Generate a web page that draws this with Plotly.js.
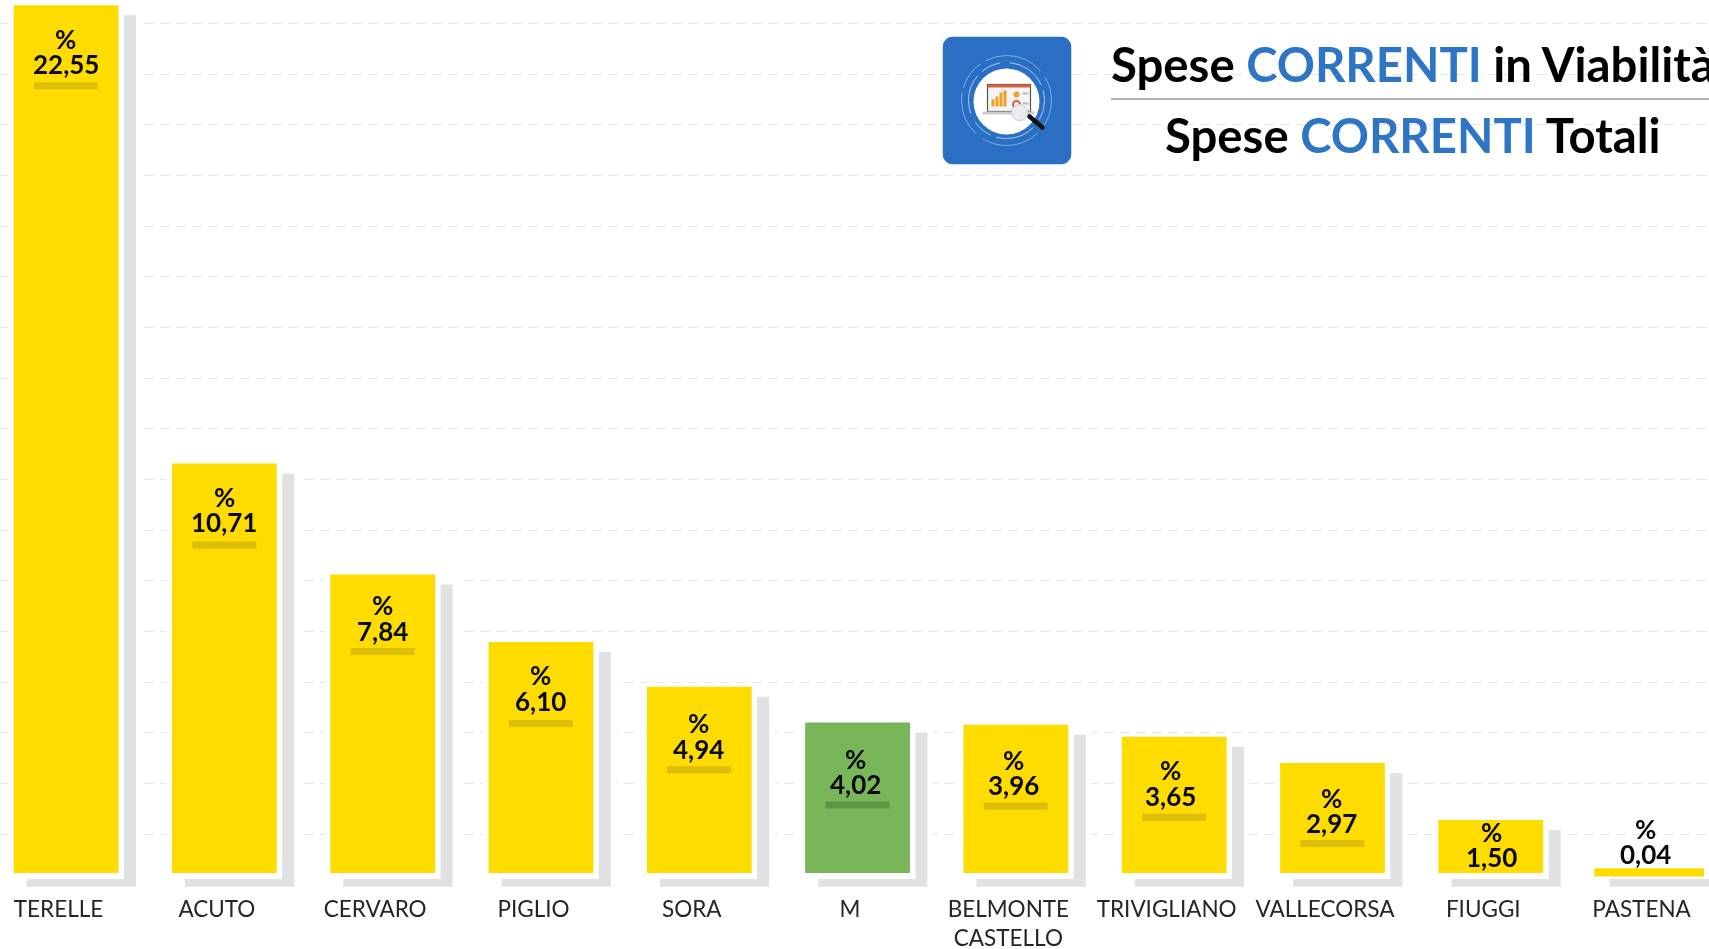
<!DOCTYPE html>
<html><head><meta charset="utf-8">
<script src="https://cdn.plot.ly/plotly-3.0.1.min.js"></script>
<style>html,body{margin:0;padding:0;background:#fff;overflow:hidden}#chart{width:1709px;height:949px;filter:blur(0.4px)}</style>
</head><body><div id="chart"></div>
<script>
const categories = ['TERELLE','ACUTO','CERVARO','PIGLIO','SORA','M','BELMONTE<br>CASTELLO','TRIVIGLIANO','VALLECORSA','FIUGGI','PASTENA'];
const values = [22.55,10.71,7.84,6.10,4.94,4.02,3.96,3.65,2.97,1.50,0.04];
const barColors = ['#FFDC00','#FFDC00','#FFDC00','#FFDC00','#FFDC00','#79B65A','#FFDC00','#FFDC00','#FFDC00','#FFDC00','#FFDC00'];
const stripColors = ['#DDBE08','#DDBE08','#DDBE08','#DDBE08','#DDBE08','#5B9643','#DDBE08','#DDBE08','#DDBE08',null,null];
const percentDrop = [34,33,30,33,36,37,35,33,35,12,-47];
const valueDrop = [59,58,56,59,62,62,60,59,60,37,-22];
const stripDrop = [77,78,73.5,78,79.5,79,78,77,77,0,0];
const labelShift = [7.4,7.6,7.4,7,7,5,4.8,4,7,8.4,4.4];
const gridValues = [1.137,2.446,3.755,5.064,6.373,7.682,8.991,10.3,11.609,12.918,14.227,15.536,16.845,18.154,19.463,20.772,22.081];
const blue = '#2E75C5';
const font = 'Lato, Carlito, sans-serif';

const W = 1709, PH = 893, PXV = 38.7;
const barBase = 0.129, whiteBase = -0.026, shadowBase = -0.225, shadowDrop = 0.258, floorV = (878-PH)/PXV;
const isLast = i => i === categories.length-1;

function bar(name, colors, tops, bases, offsets, widths){
  return {type:'bar', name, x:categories, y:tops.map((t,i)=>t===null?null:t-bases[i]), base:bases,
    offset:offsets, width:widths, marker:{color:colors,line:{width:0}}, hoverinfo:'skip', showlegend:false};
}
const rep = v => categories.map(()=>v);
const traces = [
  bar('gap', rep('#ffffff'), values, rep(floorV), rep(-0.32), rep(0.8437)),
  bar('shadow', rep('#E0E1E3'), values.map(v=>Math.max(v-shadowDrop, whiteBase)), rep(shadowBase), rep(-0.2015), rep(0.6905)),
  bar('inner', rep('#ffffff'), values, rep(whiteBase), rep(-0.2836), rep(0.6966)),
  {type:'bar', name:'values', x:categories,
   y:values.map((v,i)=>isLast(i)?0.215:v-barBase),
   base:values.map((v,i)=>isLast(i)?v:barBase),
   offset:categories.map((c,i)=>isLast(i)?-0.2988:-0.2836),
   width:categories.map((c,i)=>isLast(i)?0.693:0.662),
   marker:{color:barColors,line:{width:0}}, hoverinfo:'skip', showlegend:false},
  bar('strip', stripColors, values.map((v,i)=>stripColors[i]?v-stripDrop[i]/PXV:null), values.map((v,i)=>v-(stripDrop[i]+7)/PXV), rep(-0.155), rep(0.404))
];

const annotations = [];
values.forEach((v,i)=>{
  annotations.push({x:categories[i],y:v,xref:'x',yref:'y',text:'%',showarrow:false,xanchor:'center',yanchor:'middle',
    xshift:labelShift[i],yshift:-percentDrop[i],font:{family:font,size:26,color:'#0a0a0a',weight:700}});
  annotations.push({x:categories[i],y:v,xref:'x',yref:'y',text:v.toFixed(2).replace('.',','),showarrow:false,xanchor:'center',yanchor:'middle',
    xshift:labelShift[i],yshift:-valueDrop[i],font:{family:font,size:26,color:'#0a0a0a',weight:700}});
});
const px = x=>x/W, py = y=>1-y/PH;
annotations.push({xref:'paper',yref:'paper',x:px(1109),y:py(63),xanchor:'left',yanchor:'middle',showarrow:false,
  text:`<b>Spese <span style="color:${blue}">CORRENTI</span> in Viabilità</b>`,font:{family:font,size:47.3,color:'#000'}});
annotations.push({xref:'paper',yref:'paper',x:px(1413),y:py(134),xanchor:'center',yanchor:'middle',showarrow:false,
  text:`<b>Spese <span style="color:${blue}">CORRENTI</span> Totali</b>`,font:{family:font,size:47.3,color:'#000'}});

const logo = `<svg xmlns="http://www.w3.org/2000/svg" width="129" height="128" viewBox="0 0 129 128">
<rect width="129" height="128" rx="11" fill="#2A6FC4"/>
<circle cx="64" cy="64" r="45" fill="none" stroke="#7FAEE3" stroke-width="1" stroke-dasharray="30 6 60 8 45 5"/>
<circle cx="64" cy="64" r="38" fill="none" stroke="#A9CBF0" stroke-width="1" stroke-dasharray="20 10 40 6"/>
<circle cx="64" cy="65" r="33" fill="#fff"/>
<rect x="45" y="48" width="43" height="27" fill="#F3F4F6" stroke="#555" stroke-width="1.2"/>
<rect x="45" y="48" width="43" height="3" fill="#D9603A"/>
<rect x="49" y="63" width="3" height="7" fill="#F0A020"/><rect x="53" y="60" width="3" height="10" fill="#F0A020"/><rect x="57" y="56" width="3" height="14" fill="#F0A020"/><rect x="61" y="54" width="3" height="16" fill="#F0A020"/>
<circle cx="74" cy="58" r="3" fill="#F0A020"/><circle cx="74" cy="68" r="3.5" fill="none" stroke="#D9603A" stroke-width="2"/>
<rect x="80" y="56" width="6" height="2" fill="#bbb"/><rect x="80" y="66" width="6" height="2" fill="#bbb"/>
<rect x="40" y="75" width="52" height="3" fill="#ccc"/>
<circle cx="77" cy="76" r="8" fill="#e9edf2" stroke="#ccc"/>
<line x1="87" y1="80" x2="100" y2="91" stroke="#111" stroke-width="4.5" stroke-linecap="round"/>
</svg>`;

const layout = {
  width:W, height:949, margin:{l:0,r:0,t:0,b:949-PH,pad:0},
  paper_bgcolor:'#fff', plot_bgcolor:'#fff', barmode:'overlay', showlegend:false,
  font:{family:font},
  xaxis:{type:'category',categoryorder:'array',categoryarray:categories,range:[-0.370,10.426],showgrid:false,zeroline:false,showline:false,ticks:'',
    tickfont:{family:font,size:22.5,color:'#262626'},tickangle:0,fixedrange:true,automargin:false},
  yaxis:{range:[floorV,878/PXV],tickmode:'array',tickvals:gridValues,showticklabels:false,ticks:'',showgrid:true,
    gridcolor:'#E6E6E6',gridwidth:1,griddash:'10px,6px',zeroline:false,showline:false,fixedrange:true,automargin:false},
  annotations,
  shapes:[{type:'line',xref:'paper',yref:'paper',x0:px(1111),x1:1,y0:py(99),y1:py(99),line:{color:'#666',width:1}}],
  images:[{source:'data:image/svg+xml;base64,'+btoa(logo),xref:'paper',yref:'paper',x:px(942.5),y:py(36.5),sizex:px(129),sizey:128/PH,sizing:'stretch',xanchor:'left',yanchor:'top',layer:'above'}]
};
Plotly.newPlot('chart',traces,layout,{displayModeBar:false,staticPlot:true});
</script></body></html>
